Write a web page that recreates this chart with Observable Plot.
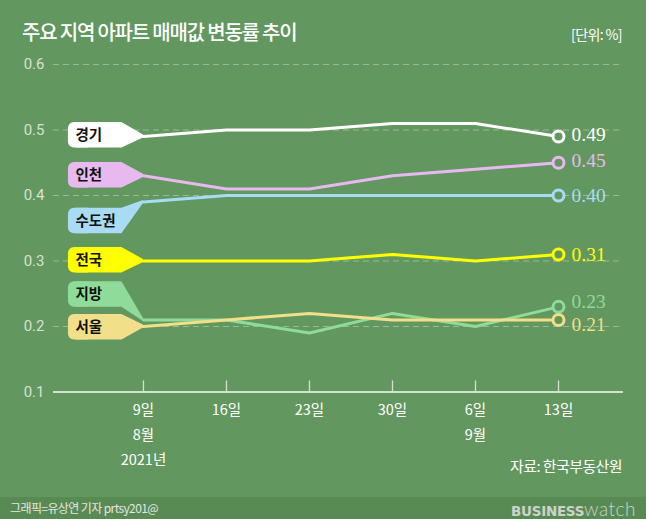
<!DOCTYPE html>
<html><head><meta charset="utf-8">
<script src="https://cdn.jsdelivr.net/npm/d3@7"></script>
<script src="https://cdn.jsdelivr.net/npm/@observablehq/plot@0.6"></script>
<style>
body{margin:0;background:#62975f;}
#wrap{position:relative;width:646px;height:519px;background:#62975f;overflow:hidden;font-family:"Noto Sans CJK KR","Noto Sans",sans-serif;}
#chart{position:absolute;left:0;top:0;}
.t{position:absolute;line-height:1;white-space:nowrap;}
#title{left:22px;top:22px;color:#fff;font-size:20px;font-weight:500;letter-spacing:-1.2px;}
#unit{right:24px;top:27px;color:#fff;font-size:14px;letter-spacing:-0.6px;}
#source{right:24px;top:458px;color:#fff;font-size:15px;letter-spacing:-0.6px;}
#footer{position:absolute;left:0;top:497px;width:646px;height:22px;background:#588b53;}
#credit{left:10px;top:5px;color:#e6e6e6;font-size:12px;letter-spacing:-0.6px;}
#logo{right:10px;top:2px;color:#cdd2cc;}
#logo b{font-family:"DejaVu Sans",sans-serif;font-weight:bold;font-size:13.5px;letter-spacing:-0.3px;}
#logo span{font-family:"Lato","Open Sans",sans-serif;font-weight:300;font-size:19px;letter-spacing:0.5px;}
</style>
</head><body>
<div id="wrap">
  <div class="t" id="title">주요 지역 아파트 매매값 변동률 추이</div>
  <div class="t" id="unit">[단위: %]</div>
  <div id="chart"></div>
  <div class="t" id="source">자료: 한국부동산원</div>
  <div id="footer">
    <div class="t" id="credit">그래픽=유상연 기자 prtsy201@</div>
    <div class="t" id="logo"><b>BUSINESS</b><span>watch</span></div>
  </div>
</div>
<script>
// ---- data ----
const weekLabels = ["9일\n8월\n2021년", "16일", "23일", "30일", "6일\n9월", "13일"];
const regions = ["경기", "인천", "수도권", "전국", "지방", "서울"];
const colors = ["#ffffff", "#e8b9ef", "#a9dcf4", "#ffff00", "#8edb9a", "#f2df8a"];
const gyeonggi = [0.49, 0.50, 0.50, 0.51, 0.51, 0.49];
const incheon = [0.43, 0.41, 0.41, 0.43, 0.44, 0.45];
const capitalArea = [0.39, 0.40, 0.40, 0.40, 0.40, 0.40];
const nationwide = [0.30, 0.30, 0.30, 0.31, 0.30, 0.31];
const provinces = [0.21, 0.21, 0.19, 0.22, 0.20, 0.23];
const seoul = [0.20, 0.21, 0.22, 0.21, 0.21, 0.21];
const yTicks = [0.1, 0.2, 0.3, 0.4, 0.5, 0.6];

// ---- build ----
const seriesValues = [gyeonggi, incheon, capitalArea, nationwide, provinces, seoul];
const bg = "#62975f";
const long = [];
regions.forEach((name, s) => seriesValues[s].forEach((v, i) => long.push({name, i, v, color: colors[s]})));
const last = regions.map((name, s) => ({name, i: seriesValues[s].length - 1, v: seriesValues[s][seriesValues[s].length - 1], color: colors[s]}));

// tag placement (label box centre, data units) and shape constants
const tagCentre = {"경기": 0.492, "인천": 0.431, "수도권": 0.361, "전국": 0.301, "지방": 0.249, "서울": 0.199};
const tagHalf = 0.0195, tipHalf = 0.0024;
const tagLeft = -0.904, tagBoxRight = -0.26, tagTip = 0;
const tags = regions.map((name, s) => ({name, c: tagCentre[name], v0: seriesValues[s][0], color: colors[s]}));
const tagShape = [];
tags.forEach(t => {
  tagShape.push({name: t.name, color: t.color, x: tagLeft + 0.1, y1: t.c - tagHalf, y2: t.c + tagHalf});
  tagShape.push({name: t.name, color: t.color, x: tagBoxRight, y1: t.c - tagHalf, y2: t.c + tagHalf});
  tagShape.push({name: t.name, color: t.color, x: tagTip, y1: t.v0 - tipHalf, y2: t.v0 + tipHalf});
});
const idx = weekLabels.map((_, i) => i);
const axisColor = "#d3e1cf";
const valueText = (data, dy) => Plot.text(data, {x: "i", y: "v", text: d => d.v.toFixed(2), dx: 13, dy,
  textAnchor: "start", fill: d => d.color, fontSize: 19.5, fontFamily: "'Liberation Serif', serif"});

const chart = Plot.plot({
  width: 646, height: 497,
  marginTop: 64, marginBottom: 105.5, marginLeft: 53, marginRight: 23,
  style: {background: "transparent", overflow: "visible"},
  x: {domain: [-1.084, 5.783], axis: null},
  y: {domain: [0.1, 0.6]},
  marks: [
    Plot.ruleY(yTicks.filter(d => d > 0.1), {stroke: "#ffffff", strokeOpacity: 0.35, strokeDasharray: "6,4"}),
    Plot.ruleY([0.1], {stroke: axisColor, strokeWidth: 2}),
    Plot.vector(idx, {x: d => d, y: 0.1, length: 11, rotate: 0, anchor: "start", stroke: axisColor, strokeWidth: 1.3,
      shape: {draw(ctx, l) { ctx.moveTo(0, 0); ctx.lineTo(0, -l); }}}),
    Plot.axisY({ticks: yTicks, tickSize: 0, tickPadding: 9, tickFormat: d3.format(".1f"), label: null,
      fontSize: 15, fontFamily: "Roboto, 'Liberation Sans', sans-serif", color: "#d6e2d2"}),
    Plot.text(idx, {x: d => d, y: 0.1, text: d => weekLabels[d], lineAnchor: "top", dy: 5, lineHeight: 1.72,
      fontSize: 14.5, fill: "#ffffff", fontFamily: "'Noto Sans CJK KR', sans-serif"}),
    Plot.areaY(tagShape, {x: "x", y1: "y1", y2: "y2", z: "name", fill: d => d.color, curve: "linear"}),
    Plot.rect(tags, {x1: tagLeft, x2: tagLeft + 0.3, y1: d => d.c - tagHalf, y2: d => d.c + tagHalf, fill: d => d.color, rx: 6}),
    Plot.text(tags, {x: tagLeft + 0.085, y: "c", text: "name", textAnchor: "start", fontSize: 14.5, fontWeight: "bold",
      fill: "#111111", fontFamily: "'Noto Sans CJK KR', sans-serif"}),
    Plot.line(long, {x: "i", y: "v", z: "name", stroke: d => d.color, strokeWidth: 3, curve: "linear"}),
    Plot.dot(last, {x: "i", y: "v", r: 5.5, stroke: d => d.color, strokeWidth: 3, fill: bg}),
    valueText(last.filter(d => ["경기", "인천"].includes(d.name)), -2),
    valueText(last.filter(d => ["수도권", "전국"].includes(d.name)), 0),
    valueText(last.filter(d => d.name === "지방"), -5),
    valueText(last.filter(d => d.name === "서울"), 5)
  ]
});
document.getElementById("chart").appendChild(chart);
</script>
</body></html>
